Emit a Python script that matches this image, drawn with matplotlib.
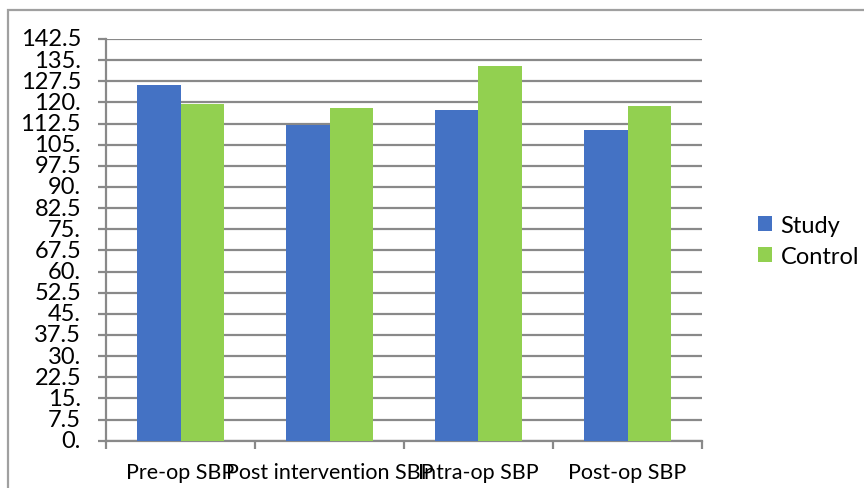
import matplotlib.pyplot as plt
import numpy as np
from matplotlib.patches import Rectangle

categories = ["Pre-op SBP", "Post intervention SBP", "Intra-op SBP", "Post-op SBP"]
study = [126.3, 112.0, 117.2, 110.1]
control = [119.4, 117.9, 132.9, 118.6]
yticks = [0, 7.5, 15, 22.5, 30, 37.5, 45, 52.5, 60, 67.5, 75, 82.5, 90,
          97.5, 105, 112.5, 120, 127.5, 135, 142.5]
ytick_labels = ["0.", "7.5", "15.", "22.5", "30.", "37.5", "45.", "52.5", "60.",
                "67.5", "75.", "82.5", "90.", "97.5", "105.", "112.5", "120.",
                "127.5", "135.", "142.5"]

blue = "#4472c4"
green = "#92d050"
gray = "#898989"

plt.rcParams['font.family'] = ['Lato', 'DejaVu Sans']

fig = plt.figure(figsize=(8.64, 4.89), dpi=100)
ax = fig.add_axes([106 / 864, 1 - 441.7 / 489, 596 / 864, 401.7 / 489])

# outer chart border
fig.patches.append(Rectangle((8 / 864, -0.1), 1.0, 1 - 11 / 489 + 0.1,
                             transform=fig.transFigure, fill=False,
                             edgecolor="#a0a0a0", linewidth=1.6, zorder=0))

x = np.arange(len(categories))
w = 0.289
ax.bar(x - w / 2, study, w, color=blue, label="Study", zorder=3)
ax.bar(x + w / 2, control, w, color=green, label="Control", zorder=3)

ax.set_xlim(-0.5, len(categories) - 0.5)
ax.set_ylim(0, 142.5)
ax.set_yticks(yticks)
ax.set_yticklabels(ytick_labels)
ax.yaxis.grid(True, color=gray, linewidth=1.6, zorder=0)
ax.set_axisbelow(True)

ax.set_xticks(x)
ax.set_xticklabels(categories)
ax.set_xticks(np.arange(len(categories) + 1) - 0.5, minor=True)
ax.tick_params(axis='x', which='major', length=0, labelsize=15.5, pad=15)
ax.tick_params(axis='x', which='minor', length=6, width=1.6, color=gray, direction='out')
ax.tick_params(axis='y', length=6, width=1.6, color=gray, direction='out',
               labelsize=17, pad=12)

for s in ['top', 'right']:
    ax.spines[s].set_visible(False)
for s in ['left', 'bottom']:
    ax.spines[s].set_color(gray)
    ax.spines[s].set_linewidth(1.6)

for lbl in ax.get_yticklabels():
    lbl.set_verticalalignment('center')

ax.legend(loc='center left', bbox_to_anchor=(1.094, 0.497), frameon=False,
          fontsize=17, handlelength=0.6, handleheight=0.6, handletextpad=0.35,
          labelspacing=0.44, borderpad=0, borderaxespad=0)

fig.savefig("out.png", dpi=100)
